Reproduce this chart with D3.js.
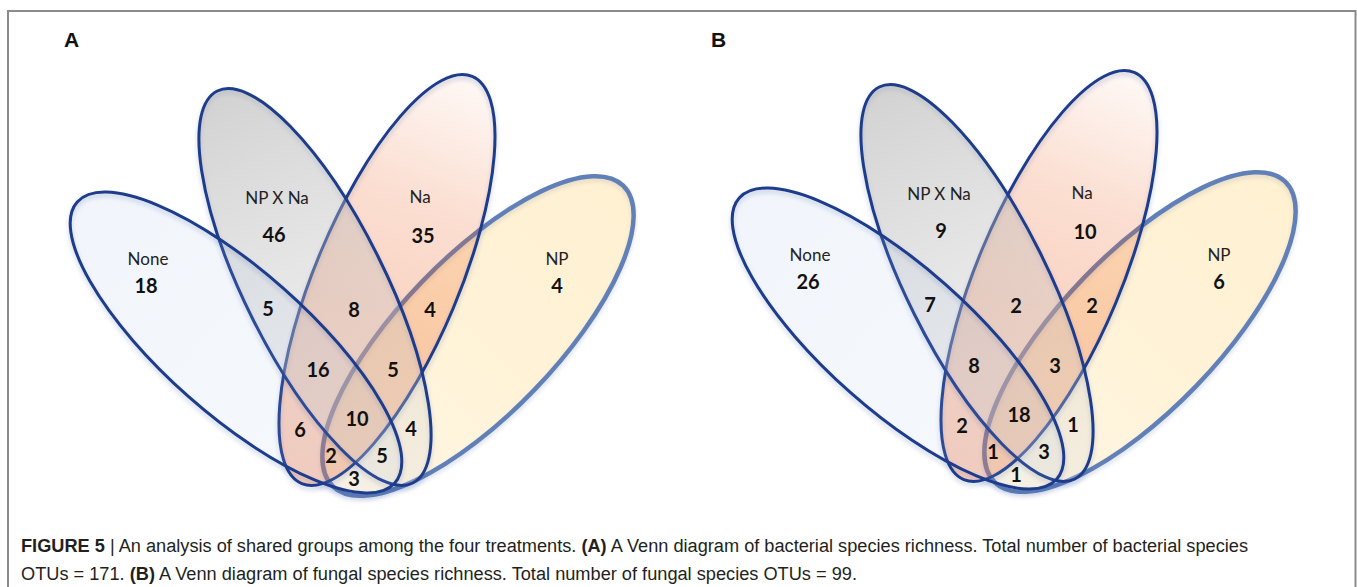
<!DOCTYPE html>
<html>
<head>
<meta charset="utf-8">
<script src="https://cdn.jsdelivr.net/npm/d3@7"></script>
<style>
  html, body { margin: 0; padding: 0; background: #fff; }
  svg { display: block; }
</style>
</head>
<body>
<svg id="fig" width="1357" height="587"></svg>
<script>
// ---- data ----------------------------------------------------------
const setNames = ["None", "NP X Na", "Na", "NP"];
// set membership of every region of the four-set diagram
const regionSets = [
  [0], [1], [2], [3],
  [0, 1], [1, 2], [2, 3],
  [0, 1, 2], [1, 2, 3], [0, 1, 2, 3],
  [0, 2], [1, 3], [0, 2, 3], [0, 1, 3], [0, 3]
];
const bacterialCounts = [18, 46, 35, 4, 5, 8, 4, 16, 5, 10, 6, 4, 2, 5, 3];
const fungalCounts    = [26, 9, 10, 6, 7, 2, 2, 8, 3, 18, 2, 1, 1, 3, 1];
const panelLetters = ["A", "B"];

// ---- layout (panel units) ------------------------------------------
const ellipseLayout = [
  { cx: 236,   cy: 342.5, rx: 212,   ry: 72, rot: 41.5 },   // None
  { cx: 315,   cy: 287,   rx: 219,   ry: 70, rot: 63.5 },   // NP X Na
  { cx: 387,   cy: 280,   rx: 220.7, ry: 72, rot: 112.7 },  // Na
  { cx: 478,   cy: 336,   rx: 209,   ry: 78, rot: -46 }     // NP
];
const nameAnchors = [[148, 265], [277, 204], [420, 203], [557, 265]];
const countAnchors = [
  [146, 293], [274, 242], [423, 243], [557, 293],
  [268, 316], [354, 317], [430, 317],
  [318, 377], [393, 377], [357, 426],
  [300, 437], [411, 436], [331, 463], [382, 463], [354, 486]
];
const panels = [
  { letter: panelLetters[0], counts: bacterialCounts, ox: 0,   oy: 0,  lx: 64,  nudge: {} },
  { letter: panelLetters[1], counts: fungalCounts,    ox: 662, oy: -4, lx: 711, nudge: { 1: [5, 0], 7: [-6, 0] } }
];

// ---- styles ----------------------------------------------------------
const navy = "rgb(30,60,140)";
const strokeStyle = [
  { color: navy, width: 3 },
  { color: navy, width: 3 },
  { color: navy, width: 3 },
  { color: "rgb(98,128,184)", width: 4.5 }
];
const gradStops = [
  [[0, "rgb(150,180,225)", 0.13], [1, "rgb(160,188,228)", 0.1]],
  [[0, "rgb(165,165,165)", 0.5], [0.5, "rgb(190,190,190)", 0.36], [1, "rgb(215,215,215)", 0.26]],
  [[0, "rgb(235,95,30)", 0.04], [0.3, "rgb(235,95,30)", 0.2], [0.6, "rgb(235,90,28)", 0.27], [1, "rgb(235,90,28)", 0.3]],
  [[0, "rgb(255,212,120)", 0.2], [0.5, "rgb(255,210,112)", 0.28], [1, "rgb(255,208,108)", 0.31]]
];

const svg = d3.select("#fig");
const defs = svg.append("defs");
gradStops.forEach((stops, i) => {
  const g = defs.append("linearGradient")
    .attr("id", "grad" + i)
    .attr("x1", 0).attr("y1", 0.5).attr("x2", 1).attr("y2", 0.5);
  stops.forEach(s => g.append("stop")
    .attr("offset", s[0]).attr("stop-color", s[1]).attr("stop-opacity", s[2]));
});
// soft outline shadow
defs.append("filter").attr("id", "soft")
  .attr("x", "-10%").attr("y", "-10%").attr("width", "120%").attr("height", "120%")
  .append("feGaussianBlur").attr("stdDeviation", 2);

// figure frame
svg.append("rect")
  .attr("x", 8).attr("y", 11).attr("width", 1347.5).attr("height", 620)
  .attr("fill", "none").attr("stroke", "#8a8a8a").attr("stroke-width", 2);

const drawOrder = [3, 2, 1, 0];

panels.forEach(p => {
  const x = d3.scaleLinear().domain([0, 660]).range([p.ox, p.ox + 660]);
  const y = d3.scaleLinear().domain([0, 500]).range([p.oy, p.oy + 500]);
  const len = v => x(v) - x(0);
  const g = svg.append("g").attr("class", "panel");

  g.append("text")
    .attr("x", p.lx).attr("y", 47)
    .attr("font-family", "Liberation Sans, Arial, sans-serif")
    .attr("font-weight", "bold").attr("font-size", 21)
    .attr("fill", "#111")
    .text(p.letter);

  const geom = i => {
    const e = ellipseLayout[i];
    return { cx: x(e.cx), cy: y(e.cy), rx: len(e.rx), ry: len(e.ry), rot: e.rot };
  };

  const sets = g.selectAll("g.set")
    .data(drawOrder)
    .join("g")
    .attr("class", "set");

  // shadow under each outline
  sets.append("ellipse")
    .attr("cx", i => geom(i).cx)
    .attr("cy", i => geom(i).cy + 3)
    .attr("rx", i => geom(i).rx)
    .attr("ry", i => geom(i).ry)
    .attr("transform", i => `rotate(${geom(i).rot},${geom(i).cx},${geom(i).cy + 3})`)
    .attr("fill", "none")
    .attr("stroke", navy)
    .attr("stroke-opacity", 0.22)
    .attr("stroke-width", 3)
    .attr("filter", "url(#soft)");

  sets.append("ellipse")
    .attr("cx", i => geom(i).cx)
    .attr("cy", i => geom(i).cy)
    .attr("rx", i => geom(i).rx)
    .attr("ry", i => geom(i).ry)
    .attr("transform", i => `rotate(${geom(i).rot},${geom(i).cx},${geom(i).cy})`)
    .attr("fill", i => `url(#grad${i})`)
    .attr("stroke", i => strokeStyle[i].color)
    .attr("stroke-width", i => strokeStyle[i].width);

  // set names
  g.selectAll("text.setname")
    .data(setNames)
    .join("text")
    .attr("class", "setname")
    .attr("x", (d, i) => x(nameAnchors[i][0]))
    .attr("y", (d, i) => y(nameAnchors[i][1]))
    .attr("text-anchor", "middle")
    .attr("font-family", "Lato, sans-serif")
    .attr("font-size", 17)
    .attr("fill", "#222")
    .text(d => d);

  // region counts
  g.selectAll("text.count")
    .data(regionSets.map((s, i) => {
      const n = p.nudge[i] || [0, 0];
      return { sets: s, n: p.counts[i], pos: [countAnchors[i][0] + n[0], countAnchors[i][1] + n[1]] };
    }))
    .join("text")
    .attr("class", "count")
    .attr("x", d => x(d.pos[0]))
    .attr("y", d => y(d.pos[1]))
    .attr("text-anchor", "middle")
    .attr("font-family", "Lato, sans-serif")
    .attr("font-weight", "bold")
    .attr("font-size", 20)
    .attr("fill", "#111")
    .text(d => d.n);
});

// caption
const totalBact = d3.sum(bacterialCounts);
const totalFung = d3.sum(fungalCounts);
const captionLines = [
  { y: 552, width: 1227, parts: [
    { t: "FIGURE 5", b: true },
    { t: " | An analysis of shared groups among the four treatments. " },
    { t: "(A)", b: true },
    { t: " A Venn diagram of bacterial species richness. Total number of bacterial species" }
  ]},
  { y: 580, width: 836, parts: [
    { t: `OTUs = ${totalBact}. ` },
    { t: "(B)", b: true },
    { t: ` A Venn diagram of fungal species richness. Total number of fungal species OTUs = ${totalFung}.` }
  ]}
];
captionLines.forEach(line => {
  const t = svg.append("text")
    .attr("x", 21).attr("y", line.y)
    .attr("font-family", "Liberation Sans Narrow, Liberation Sans, Arial, sans-serif")
    .attr("font-size", 18)
    .attr("fill", "#231f20")
    .attr("textLength", line.width)
    .attr("lengthAdjust", "spacingAndGlyphs")
    .style("white-space", "pre");
  line.parts.forEach(part => {
    t.append("tspan")
      .attr("font-weight", part.b ? "bold" : "normal")
      .text(part.t);
  });
});
</script>
</body>
</html>
